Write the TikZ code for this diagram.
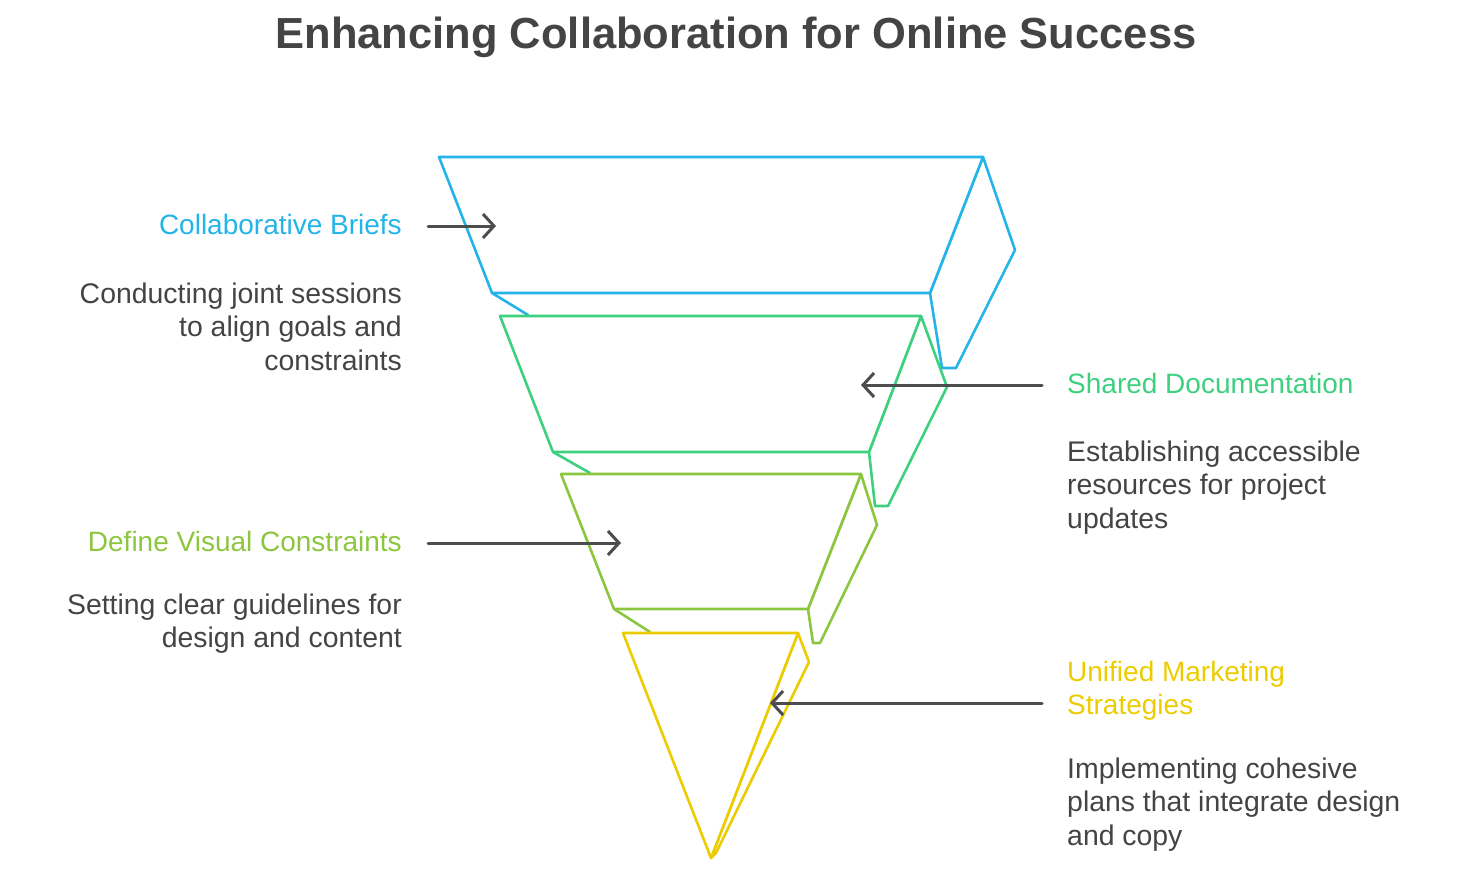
\documentclass[tikz,border=0pt]{standalone}
\usepackage{fontspec}
\setmainfont{Liberation Sans}
\usetikzlibrary{arrows.meta}
\definecolor{cblue}{RGB}{36,180,232}
\definecolor{cgreen}{RGB}{60,208,127}
\definecolor{clime}{RGB}{140,198,63}
\definecolor{cyellow}{RGB}{236,204,0}
\definecolor{ctext}{RGB}{68,68,68}
\definecolor{carrow}{RGB}{77,77,77}
\tikzset{
  layer/.style={line width=2.6pt, line join=round, fill=white},
  edge/.style={line width=2.6pt, line cap=round},
  conn/.style={draw=carrow, line width=3pt, line cap=round, -{Straight Barb[length=11pt,width=24pt,line width=3pt]}},
  lbl/.style={inner sep=0pt, font=\fontsize{28}{33.5}\selectfont},
  desc/.style={inner sep=0pt, text=ctext, font=\fontsize{28.4}{33.5}\selectfont},
}
\begin{document}
\begin{tikzpicture}[x=1pt,y=-1pt]
\useasboundingbox (0,0) rectangle (1470,878);

% title
\node[inner sep=0pt, anchor=base, text=ctext, font=\fontsize{43.5}{50}\selectfont\bfseries] (title) at (736,48) {Enhancing Collaboration for Online Success};

% blue layer
\draw[layer, draw=cblue] (983,157) -- (1015,250) -- (956,368) -- (942,368) -- (930,293) -- cycle;
\draw[layer, draw=cblue] (439,157) -- (983,157) -- (930,293) -- (492,293) -- cycle;
\draw[edge, draw=cblue] (492,293) -- (528,315);

% green layer
\draw[layer, draw=cgreen] (921,316) -- (947,387) -- (888,506) -- (875,506) -- (869,452) -- cycle;
\draw[layer, draw=cgreen] (500,316) -- (921,316) -- (869,452) -- (553,452) -- cycle;
\draw[edge, draw=cgreen] (553,452) -- (590,473);

% lime layer
\draw[layer, draw=clime] (861,474) -- (877,525) -- (820,643) -- (813,643) -- (808,609) -- cycle;
\draw[layer, draw=clime] (561,474) -- (861,474) -- (808,609) -- (614,609) -- cycle;
\draw[edge, draw=clime] (614,609) -- (650,632);

% yellow layer
\draw[layer, draw=cyellow] (798,633) -- (809,662) -- (716,853) -- (711,858) -- cycle;
\draw[layer, draw=cyellow] (623,633) -- (798,633) -- (711,858) -- cycle;

% labels (base anchor of a multi-line node = baseline of its last line)
\node[lbl, text=cblue, anchor=base east] (l1) at (402,234) {Collaborative Briefs};
\node[desc, align=right, anchor=base east] (d1) at (402,370) {Conducting joint sessions\\to align goals and\\constraints};
\node[lbl, text=cgreen, anchor=base west] (l2) at (1067,393) {Shared Documentation};
\node[desc, align=left, anchor=base west] (d2) at (1067,528) {Establishing accessible\\resources for project\\updates};
\node[lbl, text=clime, anchor=base east] (l3) at (402,551) {Define Visual Constraints};
\node[desc, align=right, anchor=base east] (d3) at (402,647.5) {Setting clear guidelines for\\design and content};
\node[lbl, text=cyellow, align=left, anchor=base west] (l4) at (1067,714.5) {Unified Marketing\\Strategies};
\node[desc, align=left, anchor=base west] (d4) at (1067,845) {Implementing cohesive\\plans that integrate design\\and copy};

% arrows
\coordinate (a1s) at (428,226); \coordinate (a1e) at (496,226);
\coordinate (a2s) at (1042,385); \coordinate (a2e) at (861,385);
\coordinate (a3s) at (428,543); \coordinate (a3e) at (621,543);
\coordinate (a4s) at (1042,703); \coordinate (a4e) at (770,703);
\draw[conn] (a1s) -- (a1e);
\draw[conn] (a2s) -- (a2e);
\draw[conn] (a3s) -- (a3e);
\draw[conn] (a4s) -- (a4e);
\end{tikzpicture}
\end{document}
